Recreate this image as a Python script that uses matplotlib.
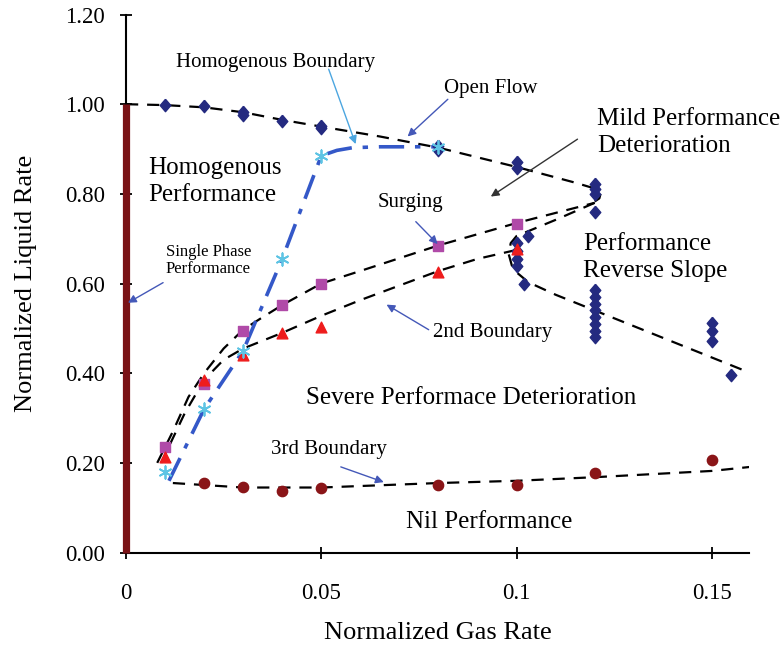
import matplotlib
matplotlib.use('Agg')
import matplotlib.pyplot as plt

plt.rcParams['font.family'] = ['Liberation Serif', 'DejaVu Serif']

# Open flow curve points (diamonds)
open_x = [0.01, 0.02, 0.03, 0.03, 0.04, 0.05, 0.05, 0.08, 0.08, 0.1, 0.1, 0.12, 0.12, 0.12, 0.12]
open_y = [0.998, 0.996, 0.982, 0.975, 0.963, 0.952, 0.947, 0.907, 0.898, 0.872, 0.858, 0.822, 0.81, 0.80, 0.76]

# Performance reverse slope points (diamonds)
rev_x = [0.103, 0.1, 0.1, 0.1, 0.1, 0.102, 0.12, 0.12, 0.12, 0.12, 0.12, 0.12, 0.12, 0.12,
         0.15, 0.15, 0.15, 0.155]
rev_y = [0.705, 0.69, 0.672, 0.655, 0.64, 0.60, 0.585, 0.57, 0.555, 0.54, 0.525, 0.51, 0.495, 0.48,
         0.512, 0.495, 0.472, 0.395]

# Homogenous boundary (asterisks)
homog_x = [0.01, 0.02, 0.03, 0.04, 0.05, 0.08]
homog_y = [0.18, 0.32, 0.45, 0.655, 0.885, 0.905]

# Surging (squares)
surge_x = [0.01, 0.02, 0.03, 0.04, 0.05, 0.08, 0.1]
surge_y = [0.235, 0.375, 0.495, 0.552, 0.60, 0.684, 0.733]

# 2nd boundary (triangles)
second_x = [0.01, 0.02, 0.03, 0.04, 0.05, 0.08, 0.1]
second_y = [0.213, 0.385, 0.44, 0.49, 0.504, 0.625, 0.676]

# 3rd boundary (circles)
third_x = [0.02, 0.03, 0.04, 0.05, 0.08, 0.1, 0.12, 0.15]
third_y = [0.155, 0.146, 0.137, 0.143, 0.151, 0.151, 0.178, 0.207]

# Hand drawn trend lines
open_line_x = [0.0, 0.01, 0.02, 0.03, 0.04, 0.05, 0.065, 0.08, 0.1, 0.115, 0.12, 0.1215, 0.1212, 0.12]
open_line_y = [1.0, 0.998, 0.993, 0.982, 0.965, 0.95, 0.928, 0.903, 0.86, 0.825, 0.812, 0.80, 0.79, 0.783]
surge_line_x = [0.008, 0.012, 0.016, 0.02, 0.025, 0.03, 0.035, 0.04, 0.05, 0.06, 0.08, 0.1, 0.12]
surge_line_y = [0.20, 0.27, 0.347, 0.40, 0.455, 0.497, 0.525, 0.552, 0.60, 0.628, 0.685, 0.735, 0.78]
second_line_x = [0.009, 0.015, 0.02, 0.025, 0.03, 0.04, 0.05, 0.06, 0.08, 0.09, 0.1]
second_line_y = [0.20, 0.31, 0.385, 0.43, 0.455, 0.49, 0.528, 0.563, 0.628, 0.655, 0.675]
rev_line_x = [0.12, 0.11, 0.1, 0.0985, 0.098, 0.0988, 0.1, 0.103, 0.11, 0.12, 0.14, 0.16]
rev_line_y = [0.78, 0.742, 0.706, 0.69, 0.665, 0.64, 0.625, 0.603, 0.575, 0.54, 0.47, 0.40]
third_line_x = [0.012, 0.03, 0.05, 0.08, 0.1, 0.12, 0.15, 0.161]
third_line_y = [0.155, 0.145, 0.145, 0.155, 0.16, 0.168, 0.182, 0.192]
homog_line_x = [0.011, 0.02, 0.03, 0.04, 0.05, 0.054, 0.058, 0.065, 0.08]
homog_line_y = [0.16, 0.32, 0.45, 0.655, 0.885, 0.897, 0.903, 0.905, 0.905]

navy = '#242a80'
arrow_blue = '#4458b8'
tall_diamond = [(0, 1), (0.85, 0), (0, -1), (-0.85, 0), (0, 1)]

fig = plt.figure(figsize=(7.84, 6.46), dpi=100)
ax = fig.add_axes([0.1607, 0.1447, 0.7946, 0.8328])
ax.set_xlim(0, 0.1595)
ax.set_ylim(0, 1.2)

# single phase performance bar
ax.plot([0, 0], [0, 1.0], color='#7a1216', linewidth=5.2, solid_capstyle='butt',
        clip_on=False, zorder=4)

dash = dict(color='black', linewidth=1.6, dashes=(5.5, 4), zorder=2)
ax.plot(open_line_x, open_line_y, **dash)
ax.plot(surge_line_x, surge_line_y, **dash)
ax.plot(second_line_x, second_line_y, **dash)
ax.plot(rev_line_x, rev_line_y, **dash)
ax.plot(third_line_x, third_line_y, **dash)
ax.plot(homog_line_x, homog_line_y, color='#3458c8', linewidth=2.6,
        dashes=(7, 3, 1.5, 3), zorder=2)

ax.scatter(open_x, open_y, marker=tall_diamond, s=80, color=navy, zorder=3)
ax.scatter(rev_x, rev_y, marker=tall_diamond, s=80, color=navy, zorder=3)
ax.scatter(surge_x, surge_y, marker='s', s=55, color='#b04aa8', zorder=3)
ax.scatter(second_x, second_y, marker='^', s=60, color='#ee1c1c', zorder=3)
ax.scatter(third_x, third_y, marker='o', s=55, color='#8a1518', zorder=3)
ax.scatter(homog_x, homog_y, marker=(6, 2, 0), s=80, color='#5ec4e4', linewidths=1.3, zorder=3)

# region labels
big = 18
small = 15
ax.text(0.0056, 0.828, 'Homogenous\nPerformance', fontsize=big, va='center', linespacing=1.3)
ax.text(0.1207, 0.937, 'Mild Performance\nDeterioration', fontsize=big, va='center', linespacing=1.3)
ax.text(0.1171, 0.658, 'Performance\nReverse Slope', fontsize=big, va='center', linespacing=1.3)
ax.text(0.046, 0.345, 'Severe Performace Deterioration', fontsize=big, va='center')
ax.text(0.0716, 0.068, 'Nil Performance', fontsize=big, va='center')

ax.text(0.0128, 1.093, 'Homogenous Boundary', fontsize=small, va='center')
ax.text(0.0813, 1.034, 'Open Flow', fontsize=small, va='center')
ax.text(0.0645, 0.781, 'Surging', fontsize=small, va='center')
ax.text(0.0102, 0.651, 'Single Phase\nPerformance', fontsize=12, va='center', linespacing=1.1)
ax.text(0.0785, 0.49, '2nd Boundary', fontsize=small, va='center')
ax.text(0.0371, 0.229, '3rd Boundary', fontsize=small, va='center')

def pointer(tip, tail, color=arrow_blue):
    ax.annotate('', xy=tip, xytext=tail,
                arrowprops=dict(arrowstyle='-|>', color=color, lw=1.0,
                                mutation_scale=12, shrinkA=0, shrinkB=0), zorder=5)

pointer((0.0588, 0.911), (0.0519, 1.078), color='#4ca6e0')
pointer((0.0721, 0.928), (0.0824, 1.011))
pointer((0.0934, 0.794), (0.1156, 0.922), color='#333333')
pointer((0.0798, 0.688), (0.0742, 0.738))
pointer((0.0005, 0.557), (0.0095, 0.602))
pointer((0.0667, 0.553), (0.0775, 0.497))
pointer((0.066, 0.157), (0.055, 0.191))

# axes styling
for side in ['top', 'right']:
    ax.spines[side].set_visible(False)
for side in ['left', 'bottom']:
    ax.spines[side].set_linewidth(1.5)
ax.set_xticks([0, 0.05, 0.1, 0.15])
ax.set_xticklabels(['0', '0.05', '0.1', '0.15'])
ax.set_yticks([0, 0.2, 0.4, 0.6, 0.8, 1.0, 1.2])
ax.set_yticklabels(['%.2f' % v for v in [0, 0.2, 0.4, 0.6, 0.8, 1.0, 1.2]])
ax.tick_params(direction='inout', length=8, width=1.3, labelsize=16.5, colors='black')
ax.tick_params(axis='x', pad=18)
ax.tick_params(axis='y', pad=11)
ax.set_xlabel('Normalized Gas Rate', fontsize=19, labelpad=13)
ax.set_ylabel('Normalized Liquid Rate', fontsize=19, labelpad=20)

fig.savefig('out.png', dpi=100)
